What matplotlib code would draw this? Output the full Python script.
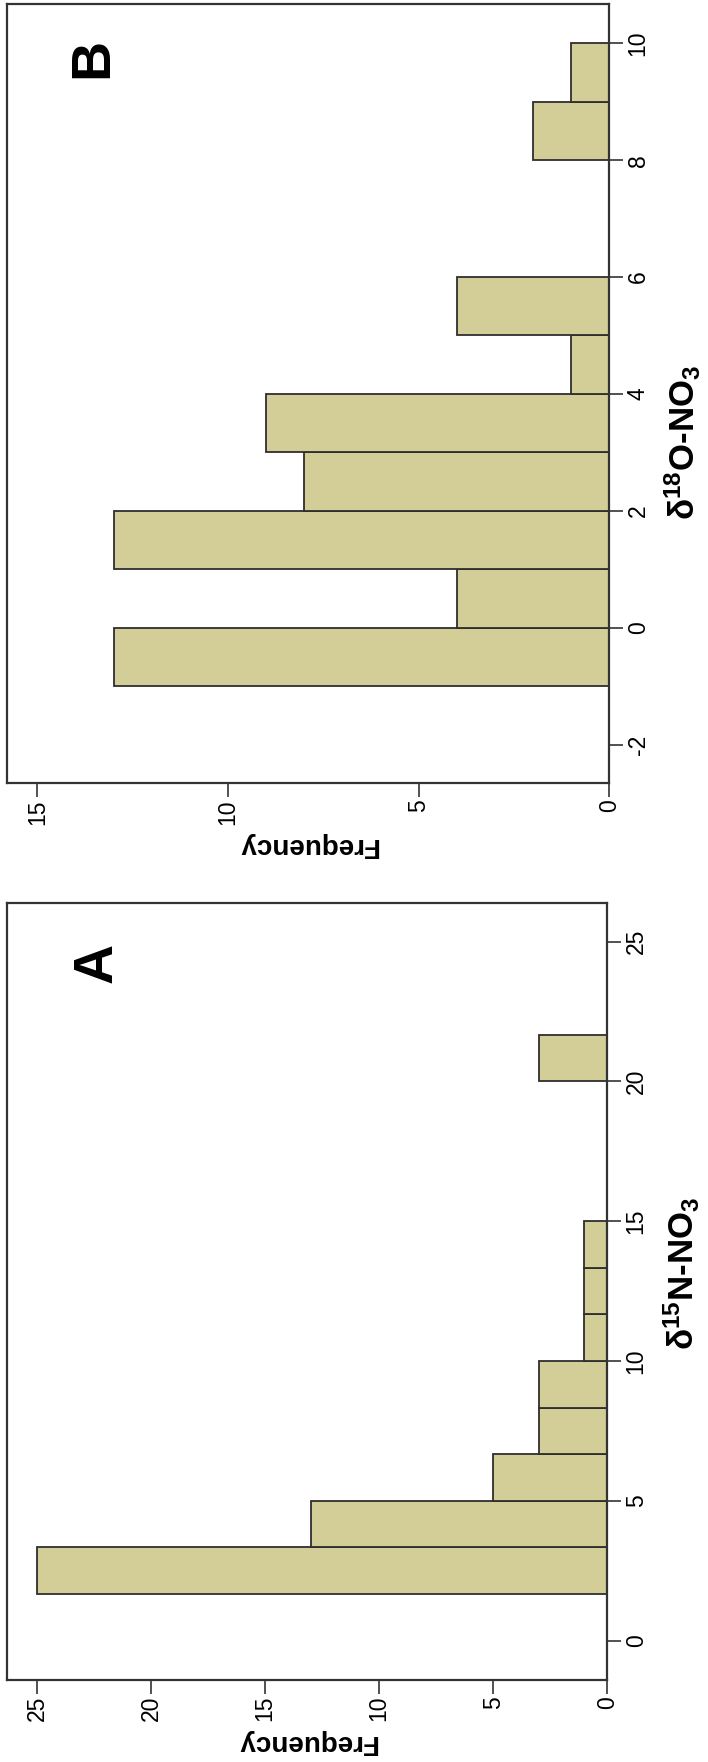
import matplotlib
matplotlib.use("Agg")
import matplotlib.pyplot as plt

plt.rcParams["font.family"] = ["Liberation Sans", "DejaVu Sans"]
plt.rcParams["mathtext.fontset"] = "custom"
plt.rcParams["mathtext.rm"] = "Liberation Sans:bold"
plt.rcParams["mathtext.it"] = "Liberation Sans:bold"
plt.rcParams["mathtext.bf"] = "Liberation Sans:bold"
plt.rcParams["axes.unicode_minus"] = False

# Panel A: delta 15N of nitrate, bin edges and counts
n15_edges = [1.667, 3.333, 5.0, 6.667, 8.333, 10.0, 11.667, 13.333,
             15.0, 16.667, 18.333, 20.0, 21.667]
n15_counts = [25, 13, 5, 3, 3, 1, 1, 1, 0, 0, 0, 3]
n15_ticks = [0, 5, 10, 15, 20, 25]
n15_freq_ticks = [0, 5, 10, 15, 20, 25]

# Panel B: delta 18O of nitrate, bin edges and counts
o18_edges = [-1, 0, 1, 2, 3, 4, 5, 6, 7, 8, 9, 10]
o18_counts = [13, 4, 13, 8, 9, 1, 4, 0, 0, 2, 1]
o18_ticks = [-2, 0, 2, 4, 6, 8, 10]
o18_freq_ticks = [0, 5, 10, 15]

FILL = "#d3cd98"
EDGE = "#2e2e2e"
AXC = "#333333"

W, H = 708, 1762
fig = plt.figure(figsize=(W / 100, H / 100), dpi=100)


def px_axes(left, top, right, bottom):
    return fig.add_axes([left / W, 1 - bottom / H, (right - left) / W,
                         (bottom - top) / H])


def draw_panel(ax, edges, counts, ylim, xmax, yticks, xticks, letter,
               letter_xy, label, label_xy):
    lows = edges[:-1]
    widths = [b - a for a, b in zip(edges[:-1], edges[1:])]
    ax.barh(lows, counts, height=widths, align="edge", color=FILL,
            edgecolor=EDGE, linewidth=1.3, zorder=2, clip_on=False)
    ax.set_xlim(xmax, 0)
    ax.set_ylim(*ylim)
    ax.set_xticks(xticks)
    ax.set_yticks(yticks)
    ax.yaxis.tick_right()
    for s in ax.spines.values():
        s.set_color(AXC)
        s.set_linewidth(1.6)
        s.set_zorder(3)
    ax.tick_params(axis="both", direction="out", length=10, width=1.2,
                   color=AXC, labelsize=16.5)
    ax.tick_params(axis="x", pad=1.5)
    ax.tick_params(axis="y", pad=2.5)
    for t in ax.get_xticklabels():
        t.set_rotation(90)
        t.set_va("top")
        t.set_ha("center")
    for t in ax.get_yticklabels():
        t.set_rotation(90)
        t.set_va("center")
        t.set_ha("left")
    ax.text(0.5, -0.0798, "Frequency", transform=ax.transAxes,
            rotation=180, ha="center", va="center", fontsize=20,
            fontweight="bold")
    ax.text(letter_xy[0], letter_xy[1], letter, transform=ax.transAxes,
            rotation=90, ha="center", va="center", fontsize=40,
            fontweight="bold")
    ax.text(label_xy[0], label_xy[1], label, transform=ax.transAxes,
            rotation=90, ha="center", va="center", fontsize=25,
            fontweight="bold")


ax_b = px_axes(7.3, 4.3, 609.3, 783.3)
draw_panel(ax_b, o18_edges, o18_counts, (-2.663, 10.667), 15.79,
           o18_ticks, o18_freq_ticks, "B", (0.142, 0.931),
           r"δ$^{18}$O-NO$_{3}$", (1.122, 0.437))

ax_a = px_axes(7.3, 903.3, 607.3, 1680.0)
draw_panel(ax_a, n15_edges, n15_counts, (-1.41, 26.37), 26.3,
           n15_ticks, n15_freq_ticks, "A", (0.151, 0.923),
           r"δ$^{15}$N-NO$_{3}$", (1.1237, 0.524))

fig.savefig("out.png", dpi=100)
